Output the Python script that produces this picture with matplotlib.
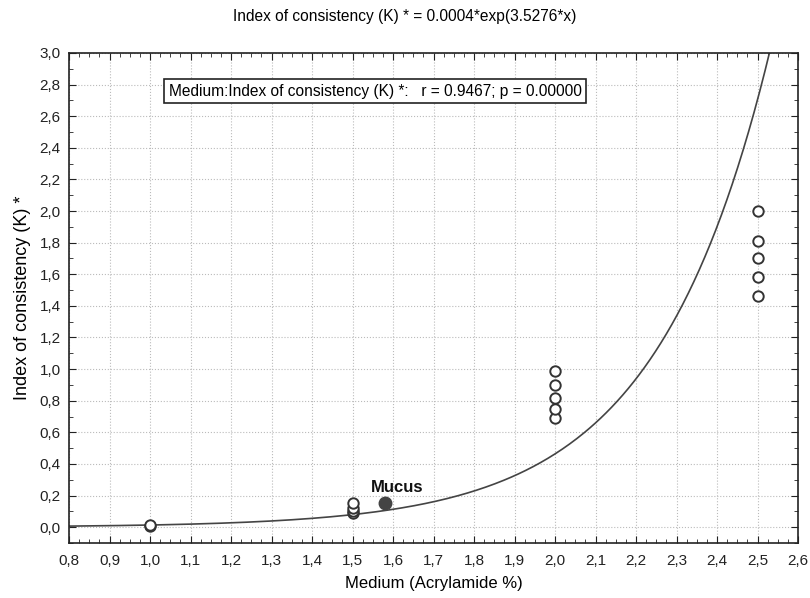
import numpy as np
from matplotlib import pyplot as plt
from matplotlib.ticker import MultipleLocator, FuncFormatter

plt.rcParams['font.family'] = ['Liberation Sans', 'DejaVu Sans']

# measured points (acrylamide %, K)
x_1 = [1.0, 1.0]
k_1 = [0.005, 0.015]
x_15 = [1.5, 1.5, 1.5, 1.5]
k_15 = [0.09, 0.10, 0.12, 0.15]
x_2 = [2.0, 2.0, 2.0, 2.0, 2.0]
k_2 = [0.69, 0.75, 0.82, 0.90, 0.99]
x_25 = [2.5, 2.5, 2.5, 2.5, 2.5]
k_25 = [1.46, 1.58, 1.70, 1.81, 2.00]
mucus_x = 1.58
mucus_k = 0.15

# fit: K = a*exp(b*x)
fit_a = 0.0004
fit_b = 3.5276

xs = x_1 + x_15 + x_2 + x_25
ks = k_1 + k_15 + k_2 + k_25

fig = plt.figure(figsize=(8.1, 5.98), dpi=100)
ax = fig.add_axes([0.0852, 0.092, 0.9, 0.8194])

xx = np.linspace(0.8, 2.6, 400)
ax.plot(xx, fit_a * np.exp(fit_b * xx), color='#444444', lw=1.2, zorder=2)
ax.plot(xs, ks, 'o', mfc='white', mec='#333333', mew=1.4, ms=7.5, zorder=3)
ax.plot([mucus_x], [mucus_k], 'o', color='#444444', ms=9, zorder=4)
ax.text(mucus_x + 0.03, mucus_k + 0.055, 'Mucus', fontsize=12, fontweight='bold',
        ha='center', va='bottom', color='#111111')

ax.set_xlim(0.8, 2.6)
ax.set_ylim(-0.1, 3.0)
ax.xaxis.set_major_locator(MultipleLocator(0.1))
ax.xaxis.set_minor_locator(MultipleLocator(0.025))
ax.yaxis.set_major_locator(MultipleLocator(0.2))
ax.yaxis.set_minor_locator(MultipleLocator(0.1))
comma = FuncFormatter(lambda v, p: ('%.1f' % v).replace('.', ','))
ax.xaxis.set_major_formatter(comma)
ax.yaxis.set_major_formatter(comma)
ax.tick_params(which='both', direction='in', top=True, right=True,
               labelsize=11, colors='#222222')
ax.tick_params(axis='x', which='major', length=5, pad=8)
ax.tick_params(axis='y', which='major', length=5, pad=6)
ax.tick_params(which='minor', length=3)
ax.grid(True, which='major', linestyle=':', color='#bbbbbb', lw=0.8)
for s in ax.spines.values():
    s.set_linewidth(1.2)
    s.set_color('#222222')

ax.set_xlabel('Medium (Acrylamide %)', fontsize=12, labelpad=6)
ax.set_ylabel('Index of consistency (K) *', fontsize=13, labelpad=6)
fig.text(0.5, 0.972, 'Index of consistency (K) * = 0.0004*exp(3.5276*x)',
         ha='center', va='center', fontsize=11.2)

ax.text(0.42, 0.922,
        'Medium:Index of consistency (K) *:   r = 0.9467; p = 0.00000',
        transform=ax.transAxes, ha='center', va='center', fontsize=11.2,
        bbox=dict(boxstyle='square,pad=0.3', fc='white', ec='#222222', lw=1.2))

fig.savefig('out.png', dpi=100)
